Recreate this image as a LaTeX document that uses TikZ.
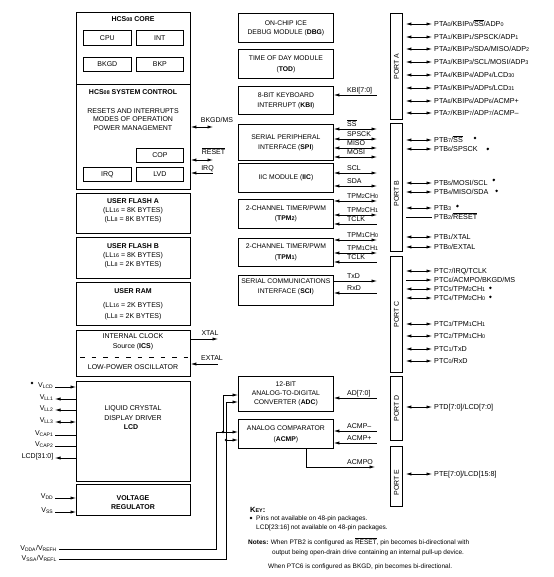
\documentclass[tikz,border=0pt]{standalone}
\usepackage{fontspec}
\setmainfont{Liberation Sans}
\usetikzlibrary{arrows.meta}
\newcommand\sdg[1]{{\fontsize{5.4}{6}\selectfont #1}}
\newcommand\ovl[1]{$\overline{\hbox{#1}}$}
\newcommand\fsz{\fontsize{7}{9}\selectfont}
\newcommand\fpin{\fontsize{7.2}{9}\selectfont}
\newcommand\fmid[1]{\fontsize{6.8}{#1}\selectfont}
\newcommand\fkey{\fontsize{6.5}{7.5}\selectfont}
\tikzset{
  box/.style={draw, line width=0.8pt, inner sep=0pt, anchor=north west, align=center, font=\fsz, minimum width=95pt},
  sub/.style={draw, line width=0.7pt, inner sep=0pt, anchor=north west, font=\fsz},
  port/.style={draw, line width=0.8pt, inner sep=0pt, anchor=north west, minimum width=12pt},
  txt/.style={inner sep=0pt, align=center, font=\fsz},
  lab/.style={inner sep=0pt, font=\fsz, anchor=base west},
  pinl/.style={inner sep=0pt, font=\fpin, anchor=base west},
  lpin/.style={inner sep=0pt, font=\fsz, anchor=base east},
  klab/.style={inner sep=0pt, font=\fkey, anchor=base west},
  wire/.style={line width=0.7pt},
  jdot/.style={circle, fill, inner sep=0pt, minimum size=2.6pt},
  pdot/.style={circle, fill, inner sep=0pt, minimum size=2.8pt},
}
\newcommand\pinrow[5]{%
  \node[pinl] (#2) at (434,#3+2.5) {#5};
  \draw[wire,#4] ([xshift=3pt,yshift=2.5pt]#1.east |- #2.base) -- ([xshift=-2pt,yshift=2.5pt]#2.base west);
}
\newcommand\sigrow[5]{%
  \coordinate (#2) at (377,#3);
  \draw[wire,#4] (#1.east |- #2) -- (#2);
  \node[lab] (#2-l) at (347,#3-2.5) {#5};
}
\newcommand\lrow[5]{%
  \node[lpin] (#2) at (53.5,#3) {#5};
  \draw[wire,#4] ([xshift=1.5pt]#2.base east) -- (#1.west |- #2.base);
}
\begin{document}
\begin{tikzpicture}[x=1pt,y=-1pt,>={Latex[length=5.5pt,width=3.2pt]}]
\useasboundingbox (0,0) rectangle (553,577);

% ---------------- left column
\node[box, minimum width=114pt, minimum height=72pt] (core) at (76,12) {};
\node[txt, font=\fsz\bfseries] (coret) at (133,19.5) {HCS\sdg{08} CORE};
\node[sub, minimum width=48pt, minimum height=15pt] (cpu) at (83,30) {CPU};
\node[sub, minimum width=47pt, minimum height=15pt] (intr) at (136,30) {INT};
\node[sub, minimum width=48pt, minimum height=14pt] (bkgdb) at (83,57) {BKGD};
\node[sub, minimum width=47pt, minimum height=14pt] (bkp) at (136,57) {BKP};

\node[box, minimum width=114pt, minimum height=105pt] (sys) at (76,84) {};
\node[txt, font=\fsz\bfseries] (syst) at (133,92) {HCS\sdg{08} SYSTEM CONTROL};
\node[txt] (sys1) at (133,111) {RESETS AND INTERRUPTS};
\node[txt] (sys2) at (133,119.5) {MODES OF OPERATION};
\node[txt] (sys3) at (133,128) {POWER MANAGEMENT};
\node[sub, minimum width=47pt, minimum height=14pt] (cop) at (136,148) {COP};
\node[sub, minimum width=48pt, minimum height=14pt] (irqb) at (83,167) {IRQ};
\node[sub, minimum width=47pt, minimum height=14pt] (lvd) at (136,167) {LVD};

\node[box, minimum width=114pt, minimum height=40pt] (fla) at (76,193) {};
\node[txt, font=\fsz\bfseries] (fla0) at (133,201) {USER FLASH A};
\node[txt] (fla1) at (133,210.5) {(LL\sdg{16} = 8K BYTES)};
\node[txt] (fla2) at (133,220) {(LL\sdg{8} = 8K BYTES)};

\node[box, minimum width=114pt, minimum height=41pt] (flb) at (76,237) {};
\node[txt, font=\fsz\bfseries] (flb0) at (133,246) {USER FLASH B};
\node[txt] (flb1) at (133,256) {(LL\sdg{16} = 8K BYTES)};
\node[txt] (flb2) at (133,265) {(LL\sdg{8} = 2K BYTES)};

\node[box, minimum width=114pt, minimum height=43pt] (ram) at (76,282) {};
\node[txt, font=\fsz\bfseries] (ram0) at (133,291) {USER RAM};
\node[txt] (ram1) at (133,306) {(LL\sdg{16} = 2K BYTES)};
\node[txt] (ram2) at (133,317) {(LL\sdg{8} = 2K BYTES)};

\node[box, minimum width=114pt, minimum height=46pt] (ics) at (76,330) {};
\node[txt] (ics1) at (133,336.5) {INTERNAL CLOCK};
\node[txt] (ics2) at (133,347) {Source (\textbf{ICS})};
\draw[line width=0.8pt, dash pattern=on 4.5pt off 7pt] ([xshift=4pt,yshift=-27pt]ics.north west) -- ([xshift=-2pt,yshift=-27pt]ics.north east);
\node[txt] (ics3) at (133,367) {LOW-POWER OSCILLATOR};

\node[box, minimum width=114pt, minimum height=100pt] (lcd) at (76,381) {};
\node[txt] (lcd1) at (133,409) {LIQUID CRYSTAL};
\node[txt] (lcd2) at (133,418) {DISPLAY DRIVER};
\node[txt, font=\fsz\bfseries] (lcd3) at (131,427) {LCD};

\node[box, minimum width=114pt, minimum height=31pt] (vreg) at (76,484) {};
\node[txt, font=\fsz\bfseries] (vreg1) at (133,498) {VOLTAGE};
\node[txt, font=\fsz\bfseries] (vreg2) at (133,507) {REGULATOR};

% signals on the right of the left column
\coordinate (cbkgd) at (213,127);
\draw[wire,<->] (sys.east |- cbkgd) -- (cbkgd);
\node[txt] (lbkgd) at (217,120) {BKGD/MS};
\coordinate (crst) at (213,160);
\draw[wire,<->] (sys.east |- crst) -- (crst);
\node[txt] (lrst) at (213.5,151.5) {\ovl{RESET}};
\coordinate (cirq) at (213,173);
\draw[wire,<-] (sys.east |- cirq) -- (cirq);
\node[txt] (lirq) at (207.5,168.5) {IRQ};
\coordinate (cxtal) at (218,339);
\draw[wire,->] (ics.east |- cxtal) -- (cxtal);
\node[txt] (lxtal) at (210,333) {XTAL};
\coordinate (cextal) at (218,364);
\draw[wire,<-] (ics.east |- cextal) -- (cextal);
\node[txt] (lextal) at (212,358.5) {EXTAL};

% pins on the left
\lrow{lcd}{vlcd}{387}{->}{V\textsubscript{LCD}}
\lrow{lcd}{vll1}{399}{<-}{V\textsubscript{LL1}}
\lrow{lcd}{vll2}{410}{<-}{V\textsubscript{LL2}}
\lrow{lcd}{vll3}{422}{<->}{V\textsubscript{LL3}}
\lrow{lcd}{vcap1}{435}{-}{V\textsubscript{CAP1}}
\lrow{lcd}{vcap2}{446}{-}{V\textsubscript{CAP2}}
\lrow{lcd}{lcdp}{458}{<-}{LCD[31:0]}
\lrow{vreg}{vdd}{498}{->}{V\textsubscript{DD}}
\lrow{vreg}{vss}{512}{->}{V\textsubscript{SS}}
\node[pdot] (dvlcd) at (32,383) {};

% ---------------- middle column
\node[box, minimum height=29pt, font=\fmid{9}] (dbg) at (238,13) {ON-CHIP ICE\\DEBUG MODULE (\textbf{DBG})};
\node[box, minimum height=29pt, font=\fmid{11}] (tod) at (238,49) {TIME OF DAY MODULE\\(\textbf{TOD})};
\node[box, minimum height=28pt, font=\fmid{10}] (kbi) at (238,86) {8-BIT KEYBOARD\\INTERRUPT (\textbf{KBI})};
\node[box, minimum height=36pt, font=\fmid{10}] (spi) at (238,124) {SERIAL PERIPHERAL\\INTERFACE (\textbf{SPI})};
\node[box, minimum height=29pt, font=\fmid{10}] (iic) at (238,163) {IIC MODULE (\textbf{IIC})};
\node[box, minimum height=29pt, font=\fmid{10}] (tpm2) at (238,199) {2-CHANNEL TIMER/PWM\\(\textbf{TPM\sdg{2}})};
\node[box, minimum height=28pt, font=\fmid{11}] (tpm1) at (238,238) {2-CHANNEL TIMER/PWM\\(\textbf{TPM\sdg{1}})};
\node[box, minimum height=30pt, font=\fmid{10}] (sci) at (238,275) {SERIAL COMMUNICATIONS\\INTERFACE (\textbf{SCI})\\[-2pt]};
\node[box, minimum height=35pt, font=\fmid{9}] (adc) at (238,376) {12-BIT\\ANALOG-TO-DIGITAL\\CONVERTER (\textbf{ADC})};
\node[box, minimum height=29pt, font=\fmid{11}] (acmp) at (238,419) {ANALOG COMPARATOR\\(\textbf{ACMP})};

\sigrow{kbi}{skbi}{95}{<-}{KBI[7:0]}
\sigrow{spi}{sss}{129}{<->}{\ovl{SS}}
\sigrow{spi}{ssck}{139}{<->}{SPSCK}
\sigrow{spi}{smiso}{148}{<->}{MISO}
\sigrow{spi}{smosi}{157}{<->}{MOSI}
\sigrow{iic}{sscl}{173}{<->}{SCL}
\sigrow{iic}{ssda}{186}{<->}{SDA}
\sigrow{tpm2}{st2a}{201}{<->}{TPM\sdg{2}CH\sdg{0}}
\sigrow{tpm2}{st2b}{215}{<->}{TPM\sdg{2}CH\sdg{1}}
\sigrow{tpm2}{st2c}{224}{<-}{TCLK}
\sigrow{tpm1}{st1a}{240}{<->}{TPM\sdg{1}CH\sdg{0}}
\sigrow{tpm1}{st1b}{253}{<->}{TPM\sdg{1}CH\sdg{1}}
\sigrow{tpm1}{st1c}{262}{<-}{TCLK}
\sigrow{sci}{stxd}{281}{->}{TxD}
\sigrow{sci}{srxd}{293}{<-}{RxD}
\sigrow{adc}{sad}{398}{<-}{AD[7:0]}
\sigrow{acmp}{sacm}{431}{<-}{ACMP–}
\sigrow{acmp}{sacp}{443}{<-}{ACMP+}

\coordinate (sacmpo) at (375,467);
\draw[wire,->] ([xshift=68pt]acmp.south west) |- (sacmpo);
\node[lab] (sacmpo-l) at (347,464) {ACMPO};

% analog supply routing
\node[lpin] (vdda) at (57,550.5) {V\textsubscript{DDA}/V\textsubscript{REFH}};
\node[lpin] (vssa) at (57,560.5) {V\textsubscript{SSA}/V\textsubscript{REFL}};
\coordinate (ja0) at (216,432);
\coordinate (ja) at (223,432);
\coordinate (ka) at (223,395);
\coordinate (kb) at (226,402);
\coordinate (jb) at (226,440);
\draw[wire,->] ([xshift=2pt,yshift=1.5pt]vdda.base east) -| (ja0) -- (acmp.west |- ja0);
\draw[wire,->] (ja) -- (ka) -- (adc.west |- ka);
\draw[wire,->] ([xshift=2pt,yshift=1.5pt]vssa.base east) -| (kb) -- (adc.west |- kb);
\draw[wire,->] (jb) -- (acmp.west |- jb);
\node[jdot] (jad) at (ja) {};
\node[jdot] (jbd) at (jb) {};

% ---------------- ports
\node[port, minimum height=106pt] (porta) at (390,13) {};
\node[rotate=90, inner sep=0pt, font=\fsz] (portal) at (porta.center) {PORT A};
\node[port, minimum height=128pt] (portb) at (390,123) {};
\node[rotate=90, inner sep=0pt, font=\fsz] (portbl) at ([yshift=-6pt]portb.center) {PORT B};
\node[port, minimum height=116pt] (portc) at (390,256) {};
\node[rotate=90, inner sep=0pt, font=\fsz] (portcl) at (portc.center) {PORT C};
\node[port, minimum height=64pt] (portd) at (390,376) {};
\node[rotate=90, inner sep=0pt, font=\fsz] (portdl) at (portd.center) {PORT D};
\node[port, minimum height=60pt] (porte) at (390,446) {};
\node[rotate=90, inner sep=0pt, font=\fsz] (portel) at ([yshift=-6pt]porte.center) {PORT E};

\pinrow{porta}{pa0}{24}{<->}{PTA\sdg{0}/KBIP\sdg{0}/\ovl{SS}/ADP\sdg{0}}
\pinrow{porta}{pa1}{37}{<->}{PTA\sdg{1}/KBIP\sdg{1}/SPSCK/ADP\sdg{1}}
\pinrow{porta}{pa2}{49}{<->}{PTA\sdg{2}/KBIP\sdg{2}/SDA/MISO/ADP\sdg{2}}
\pinrow{porta}{pa3}{62}{<->}{PTA\sdg{3}/KBIP\sdg{3}/SCL/MOSI/ADP\sdg{3}}
\pinrow{porta}{pa4}{75}{<->}{PTA\sdg{4}/KBIP\sdg{4}/ADP\sdg{4}/LCD\sdg{30}}
\pinrow{porta}{pa5}{88}{<->}{PTA\sdg{5}/KBIP\sdg{5}/ADP\sdg{5}/LCD\sdg{31}}
\pinrow{porta}{pa6}{101}{<->}{PTA\sdg{6}/KBIP\sdg{6}/ADP\sdg{6}/ACMP+}
\pinrow{porta}{pa7}{113}{<->}{PTA\sdg{7}/KBIP\sdg{7}/ADP\sdg{7}/ACMP–}

\pinrow{portb}{pb7}{140}{<->}{PTB\sdg{7}/\ovl{SS}}
\pinrow{portb}{pb6}{149}{<->}{PTB\sdg{6}/SPSCK}
\pinrow{portb}{pb5}{183}{<->}{PTB\sdg{5}/MOSI/SCL}
\pinrow{portb}{pb4}{192}{<->}{PTB\sdg{4}/MISO/SDA}
\pinrow{portb}{pb3}{208}{<->}{PTB\sdg{3}}
\pinrow{portb}{pb2}{217}{-}{PTB\sdg{2}/\ovl{RESET}}
\pinrow{portb}{pb1}{237}{<->}{PTB\sdg{1}/XTAL}
\pinrow{portb}{pb0}{247}{<->}{PTB\sdg{0}/EXTAL}

\pinrow{portc}{pc7}{271}{<->}{PTC\sdg{7}/IRQ/TCLK}
\pinrow{portc}{pc6}{280}{->}{PTC\sdg{6}/ACMPO/BKGD/MS}
\pinrow{portc}{pc5}{289}{<->}{PTC\sdg{5}/TPM\sdg{2}CH\sdg{1}}
\pinrow{portc}{pc4}{298}{<->}{PTC\sdg{4}/TPM\sdg{2}CH\sdg{0}}
\pinrow{portc}{pc3}{324}{<->}{PTC\sdg{3}/TPM\sdg{1}CH\sdg{1}}
\pinrow{portc}{pc2}{336}{<->}{PTC\sdg{2}/TPM\sdg{1}CH\sdg{0}}
\pinrow{portc}{pc1}{349}{<->}{PTC\sdg{1}/TxD}
\pinrow{portc}{pc0}{361}{<->}{PTC\sdg{0}/RxD}

\pinrow{portd}{pd}{407}{<->}{PTD[7:0]/LCD[7:0]}
\pinrow{porte}{pe}{474}{<->}{PTE[7:0]/LCD[15:8]}

% availability dots
\node[pdot] (dpb7) at ([xshift=12pt,yshift=1pt]pb7.east) {};
\node[pdot] (dpb6) at ([xshift=10pt]pb6.east) {};
\node[pdot] (dpb5) at ([xshift=6pt,yshift=3pt]pb5.east) {};
\node[pdot] (dpb4) at ([xshift=8pt,yshift=1pt]pb4.east) {};
\node[pdot] (dpb3) at ([xshift=6pt,yshift=2pt]pb3.east) {};
\node[pdot] (dpc5) at ([xshift=5pt,yshift=1pt]pc5.east) {};
\node[pdot] (dpc4) at ([xshift=5pt,yshift=1pt]pc4.east) {};

% ---------------- key
\node[inner sep=0pt, anchor=base west, font=\fontsize{7.5}{9}\selectfont\bfseries] (key) at (250,512) {K\sdg{EY}:};
\node[pdot] (keyd) at (251,518) {};
\node[klab] (key1) at (256,520.5) {Pins not available on 48-pin packages.};
\node[klab] (key2) at (256,529.5) {LCD[23:16] not available on 48-pin packages.};
\node[klab] (note1) at (248,544.5) {\textbf{Notes:} When PTB2 is configured as \ovl{RESET}, pin becomes bi-directional with};
\node[klab] (note2) at (272,554.5) {output being open-drain drive containing an internal pull-up device.};
\node[klab] (note3) at (268,568.5) {When PTC6 is configured as BKGD, pin becomes bi-directional.};
\end{tikzpicture}
\end{document}
